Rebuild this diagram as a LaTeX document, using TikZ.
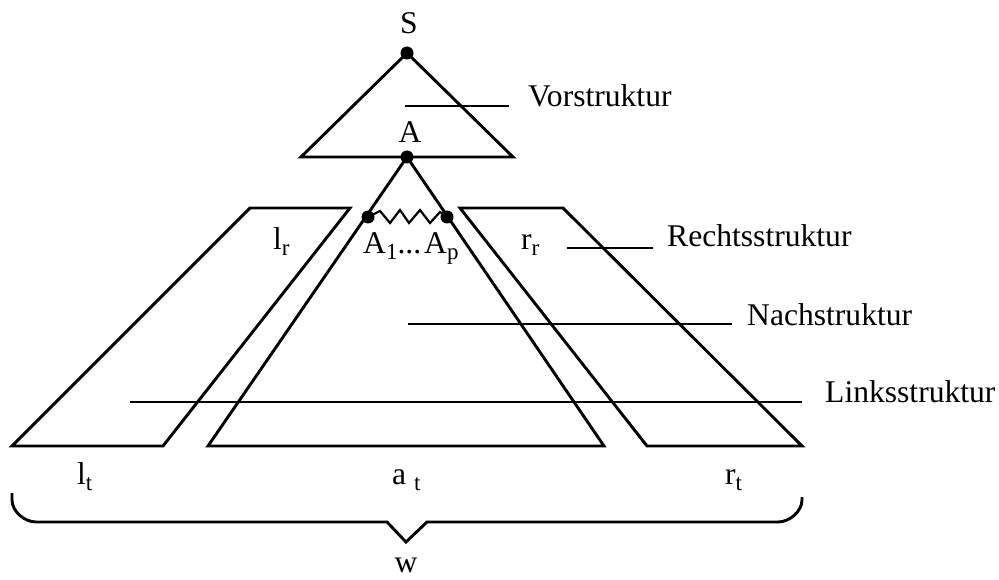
\documentclass[tikz,border=0pt]{standalone}
\usepackage{fontspec}
\setmainfont{Liberation Serif}
\newcommand{\sbs}[1]{\raisebox{-6pt}{\fontsize{23}{23}\selectfont #1}}
\begin{document}
\begin{tikzpicture}[x=1pt,y=-1pt,
  edge/.style={line width=2.9pt,line join=miter},
  dotmark/.style={circle,fill=black,inner sep=0pt,minimum size=13pt},
  lbl/.style={inner sep=0pt,font=\fontsize{31.6}{32}\selectfont},
  lblw/.style={lbl,anchor=base west},
  lblc/.style={lbl,anchor=base}]
\useasboundingbox (0,0) rectangle (999,580);
% upper triangle
\coordinate (vl) at (301,157);
\coordinate (vr) at (513,157);
\node[dotmark] (S) at (407,53) {};
\node[dotmark] (A) at (407,157) {};
\draw[edge] (S.center) -- (vr) -- (vl) -- cycle;
\node[lblc] (Slab) at (409,34) {S};
\node[lblc] (Alab) at (410,143) {A};
% lower triangle (Nachstruktur)
\coordinate (nl) at (208,446);
\coordinate (nr) at (604,446);
\draw[edge] (A.center) -- (nr) -- (nl) -- cycle;
\node[dotmark] (A1) at (368,217) {};
\node[dotmark] (Ap) at (447,217) {};
\draw[line width=2.2pt,line join=miter] (A1.center) -- (380,211) -- (390,223) -- (400,210) -- (409,223) -- (420,210) -- (430,223) -- (440,212) -- (Ap.center);
% left trapezoid
\coordinate (ltl) at (250,208);
\coordinate (ltr) at (350,208);
\coordinate (lbl) at (12,446);
\coordinate (lbr) at (163,446);
\draw[edge] (ltl) -- (ltr) -- (lbr) -- (lbl) -- cycle;
% right trapezoid
\coordinate (rtl) at (460,208);
\coordinate (rtr) at (563,208);
\coordinate (rbl) at (647,446);
\coordinate (rbr) at (802,446);
\draw[edge] (rtl) -- (rtr) -- (rbr) -- (rbl) -- cycle;
% inner labels
\node[lblw] (lr) at (273,250) {l\sbs{r}};
\node[lblw] (rr) at (521,250) {r\sbs{r}};
\node[lblw] (Aseq) at (363,254) {A\sbs{1}...\hspace{3pt}A\sbs{p}};
% side labels with leader lines
\node[lblw] (vor) at (528,107) {Vorstruktur};
\coordinate (vor0) at (405,106);
\coordinate (vor1) at (509,106);
\draw[edge] (vor0) -- (vor1);
\node[lblw] (rechts) at (667,247) {Rechtsstruktur};
\coordinate (re0) at (567,248);
\coordinate (re1) at (653,248);
\draw[edge] (re0) -- (re1);
\node[lblw] (nach) at (747,325) {Nachstruktur};
\coordinate (na0) at (408,324);
\coordinate (na1) at (732,324);
\draw[edge] (na0) -- (na1);
\node[lblw] (links) at (825,402) {Linksstruktur};
\coordinate (li0) at (130,402);
\coordinate (li1) at (802,402);
\draw[edge] (li0) -- (li1);
% bottom labels
\node[lblw] (lt) at (77,484) {l\sbs{t}};
\node[lblw] (at) at (392,484) {a \sbs{t}};
\node[lblw] (rt) at (725,484) {r\sbs{t}};
% brace
\coordinate (b0) at (12,493);
\coordinate (tip) at (406,542);
\coordinate (b1) at (802,497);
\draw[edge] (b0) -- (12,500) to[out=-90,in=180,looseness=0.9] (36,522) -- (387,522) -- (tip) -- (427,522) -- (778,522) to[out=0,in=-90,looseness=0.9] (802,500) -- (b1);
\node[lblc] (w) at (406,572) {w};
\end{tikzpicture}
\end{document}
